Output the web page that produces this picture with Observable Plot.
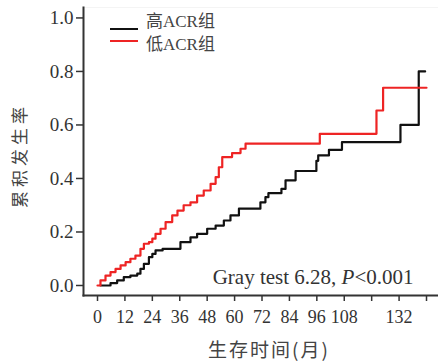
<!DOCTYPE html>
<html>
<head>
<meta charset="utf-8">
<script src="https://cdn.jsdelivr.net/npm/d3@7"></script>
<script src="https://cdn.jsdelivr.net/npm/@observablehq/plot@0.6"></script>
<style>
  html, body { margin: 0; padding: 0; background: #fff; }
  #wrap { position: relative; width: 438px; height: 362px; }
  .legend { position: absolute; left: 103px; top: 6px; width: 144px; height: 54px;
    border: none; box-sizing: border-box;
    font-family: "Liberation Serif", "Noto Sans CJK SC", serif; font-size: 17px; color: #444; }
  .legend .sw { position: absolute; left: 7px; width: 28px; height: 0; border-top: 2.5px solid; }
  .legend .lab { position: absolute; left: 43px; line-height: 20px; white-space: nowrap; }
</style>
</head>
<body>
<div id="wrap"></div>
<script>
// ---- data (months, cumulative incidence) ----
const highMonths = [1.3, 5.7, 8.6, 11.5, 14.4, 17.4, 18.8, 20.3, 22.5, 24.0, 25.4, 28.5, 36.3, 40.7, 43.6, 48.0, 51.7, 55.3, 58.2, 61.9, 71.3, 73.5, 74.8, 80.5, 82.3, 86.7, 95.8, 96.6, 101.3, 107.0, 132.6, 140.6, 143.4];
const highValues = [0.0, 0.009, 0.019, 0.031, 0.037, 0.044, 0.062, 0.081, 0.106, 0.118, 0.131, 0.137, 0.162, 0.18, 0.193, 0.212, 0.224, 0.243, 0.262, 0.287, 0.311, 0.33, 0.345, 0.361, 0.393, 0.428, 0.466, 0.486, 0.507, 0.536, 0.60, 0.80, 0.80];
const lowMonths = [0, 1.3, 3.5, 5.7, 7.9, 10.1, 12.3, 14.4, 16.6, 18.8, 20.3, 22.5, 24.0, 25.4, 27.6, 29.8, 32.7, 35.0, 37.7, 40.7, 43.6, 46.5, 49.5, 51.7, 53.1, 54.6, 58.9, 62.6, 64.8, 97.3, 122.1, 125.0, 144.0];
const lowValues = [0, 0.019, 0.037, 0.05, 0.062, 0.075, 0.087, 0.10, 0.112, 0.137, 0.156, 0.162, 0.175, 0.193, 0.212, 0.237, 0.262, 0.28, 0.30, 0.311, 0.336, 0.355, 0.38, 0.405, 0.442, 0.48, 0.495, 0.511, 0.53, 0.567, 0.654, 0.739, 0.739];
const groups = ["高ACR组", "低ACR组"];
const groupColors = ["#111111", "#ee2424"];
const xTicks = [0, 12, 24, 36, 48, 60, 72, 84, 96, 108, 120, 132, 144];
const xTickLabels = ["0", "12", "24", "36", "48", "60", "72", "84", "96", "108", "", "132", ""];
const yTicks = [0, 0.2, 0.4, 0.6, 0.8, 1.0];
const yTickLabels = ["0.0", "0.2", "0.4", "0.6", "0.8", "1.0"];
const xLabel = "生存时间(月)";
const yLabel = "累积发生率";
const testText = "Gray test 6.28, P<0.001";

const high = highMonths.map((m, i) => ({month: m, value: highValues[i], group: groups[0]}));
const low = lowMonths.map((m, i) => ({month: m, value: lowValues[i], group: groups[1]}));

const serif = "'Liberation Serif', 'Noto Sans CJK SC', serif";
const chart = Plot.plot({
  width: 438, height: 362,
  marginLeft: 83, marginRight: 0, marginTop: 7, marginBottom: 67,
  style: {fontFamily: serif, fontSize: "18px", color: "#333", background: "#fff"},
  x: {domain: [-6.13, 149.25]},
  y: {domain: [-0.0374, 1.039]},
  color: {domain: groups, range: groupColors},
  marks: [
    Plot.frame({anchor: "top", stroke: "#f4f4f4"}),
    Plot.axisX({ticks: xTicks, tickFormat: (d) => xTickLabels[xTicks.indexOf(d)], tickSize: 6, tickPadding: 9, label: null, stroke: "#333", strokeWidth: 1.5, fontSize: 18, fill: "#333"}),
    Plot.axisY({ticks: yTicks, tickFormat: (d) => yTickLabels[yTicks.indexOf(d)], tickSize: 7, tickPadding: 3, label: null, stroke: "#333", strokeWidth: 1.5, fontSize: 19, fill: "#333"}),
    Plot.frame({anchor: "bottom", stroke: "#333", strokeWidth: 2}),
    Plot.frame({anchor: "left", stroke: "#333", strokeWidth: 2}),
    Plot.line(high, {x: "month", y: "value", stroke: "group", curve: "step-after", strokeWidth: 2.2}),
    Plot.line(low, {x: "month", y: "value", stroke: "group", curve: "step-after", strokeWidth: 2.2}),
    Plot.text([testText], {frameAnchor: "bottom-right", dx: -25, dy: -12, textAnchor: "end", fontSize: 21, fill: "#333", className: "gray-test"}),
    Plot.text([xLabel], {frameAnchor: "bottom", dx: 8, dy: 61, textAnchor: "middle", fontSize: 19, fill: "#444", fontFamily: "'Noto Sans CJK SC', serif", className: "xlab"}),
    Plot.text([yLabel], {frameAnchor: "left", dx: -63, dy: 4, rotate: -90, textAnchor: "middle", fontSize: 17, fill: "#444", fontFamily: "'Noto Sans CJK SC', serif", className: "ylab"})
  ]
});
document.getElementById("wrap").appendChild(chart);

// italic P in the test annotation, letter spacing for labels
d3.select(chart).selectAll(".gray-test text").each(function() {
  const t = this.textContent;
  const idx = t.indexOf("P<");
  const el = d3.select(this).text("");
  el.append("tspan").text(t.slice(0, idx));
  el.append("tspan").attr("font-style", "italic").text("P");
  el.append("tspan").text(t.slice(idx + 1));
});
d3.select(chart).selectAll(".xlab text").attr("letter-spacing", "2px");
d3.select(chart).selectAll(".ylab text").attr("letter-spacing", "4px");

// legend
const leg = document.createElement("div");
leg.className = "legend";
const swTops = [22, 34];
const labTops = [6, 29];
groups.forEach((g, i) => {
  const sw = document.createElement("span");
  sw.className = "sw";
  sw.style.top = swTops[i] + "px";
  sw.style.borderColor = groupColors[i];
  const tx = document.createElement("span");
  tx.className = "lab";
  tx.style.top = labTops[i] + "px";
  tx.textContent = g;
  leg.appendChild(sw); leg.appendChild(tx);
});
document.getElementById("wrap").appendChild(leg);
</script>
</body>
</html>
